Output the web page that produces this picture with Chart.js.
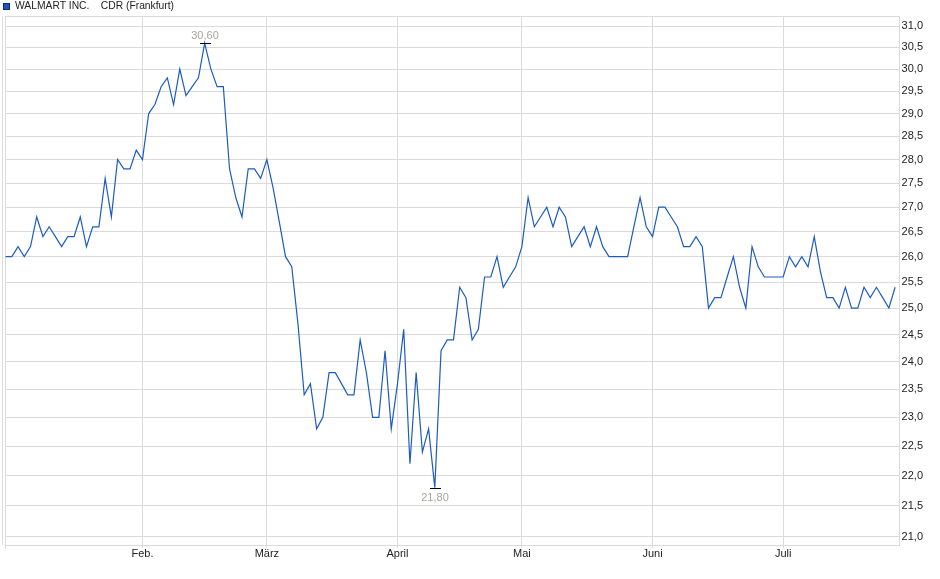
<!DOCTYPE html>
<html>
<head>
<meta charset="utf-8">
<title>WALMART INC. CDR (Frankfurt)</title>
<script src="https://cdn.jsdelivr.net/npm/chart.js@4/dist/chart.umd.min.js"></script>
<style>
html, body { margin: 0; padding: 0; background: #fff; }
#wrap { width: 940px; height: 579px; }
</style>
</head>
<body>
<div id="wrap"><canvas id="kursChart" width="940" height="579"></canvas></div>
<script>
const seriesName = 'WALMART INC.    CDR (Frankfurt)';

// Schlusskurse, ein Wert pro Handelstag (Jan. bis Ende Juli)
const prices = [
    26.0, 26.0, 26.2, 26.0, 26.2, 26.8, 26.4, 26.6, 26.4, 26.2,
    26.4, 26.4, 26.8, 26.2, 26.6, 26.6, 27.6, 26.8, 28.0, 27.8,
    27.8, 28.2, 28.0, 29.0, 29.2, 29.6, 29.8, 29.2, 30.0, 29.4,
    29.6, 29.8, 30.6, 30.0, 29.6, 29.6, 27.8, 27.2, 26.8, 27.8,
    27.8, 27.6, 28.0, 27.4, 26.7, 26.0, 25.8, 24.7, 23.4, 23.6,
    22.8, 23.0, 23.8, 23.8, 23.6, 23.4, 23.4, 24.4, 23.8, 23.0,
    23.0, 24.2, 22.8, 23.6, 24.6, 22.2, 23.8, 22.4, 22.8, 21.8,
    24.2, 24.4, 24.4, 25.4, 25.2, 24.4, 24.6, 25.6, 25.6, 26.0,
    25.4, 25.6, 25.8, 26.2, 27.2, 26.6, 26.8, 27.0, 26.6, 27.0,
    26.8, 26.2, 26.4, 26.6, 26.2, 26.6, 26.2, 26.0, 26.0, 26.0,
    26.0, 26.6, 27.2, 26.6, 26.4, 27.0, 27.0, 26.8, 26.6, 26.2,
    26.2, 26.4, 26.2, 25.0, 25.2, 25.2, 25.6, 26.0, 25.4, 25.0,
    26.2, 25.8, 25.6, 25.6, 25.6, 25.6, 26.0, 25.8, 26.0, 25.8,
    26.4, 25.7, 25.2, 25.2, 25.0, 25.4, 25.0, 25.0, 25.4, 25.2,
    25.4, 25.2, 25.0, 25.4
];

const monthNames = ['Feb.', 'März', 'April', 'Mai', 'Juni', 'Juli'];
const monthStarts = [22, 42, 63, 83, 104, 125];

const yTicks = [21.0, 21.5, 22.0, 22.5, 23.0, 23.5, 24.0, 24.5, 25.0, 25.5,
                26.0, 26.5, 27.0, 27.5, 28.0, 28.5, 29.0, 29.5, 30.0, 30.5, 31.0];

const lineColor = '#1c5bc4';
const gridColor = '#dadada';
const textColor = '#222222';
const markColor = '#a9a39c';
const fontName = '"Liberation Sans", Arial, sans-serif';

function komma(v, d) {
    return v.toFixed(d).replace('.', ',');
}

// Rahmen, Legende und Markierung von Hoch/Tief
const rahmen = {
    id: 'rahmen',
    beforeDatasetsDraw(chart) {
        const ctx = chart.ctx;
        const a = chart.chartArea;
        ctx.save();
        ctx.strokeStyle = gridColor;
        ctx.lineWidth = 1;
        const l = Math.round(a.left) + 0.5, r = Math.round(a.right) + 0.5;
        const t = Math.round(a.top) + 0.5, b = Math.round(a.bottom) + 0.5;
        ctx.strokeRect(l, t, r - l, b - t);
        ctx.beginPath();
        ctx.moveTo(l - 3, t);
        ctx.lineTo(l - 3, b);
        ctx.moveTo(l, b);
        ctx.lineTo(l, b + 3);
        ctx.stroke();
        ctx.restore();
    },
    afterDatasetsDraw(chart) {
        const ctx = chart.ctx;
        const xs = chart.scales.x, ys = chart.scales.y;
        const hi = prices.indexOf(Math.max(...prices));
        const lo = prices.indexOf(Math.min(...prices));
        ctx.save();
        ctx.font = '11px ' + fontName;
        ctx.textAlign = 'center';
        ctx.textBaseline = 'middle';
        [[hi, -8], [lo, 9]].forEach(function(m) {
            const x = Math.round(xs.getPixelForValue(m[0]));
            const y = Math.round(ys.getPixelForValue(prices[m[0]])) + 0.5;
            ctx.strokeStyle = '#000';
            ctx.lineWidth = 1;
            ctx.beginPath();
            ctx.moveTo(x - 5, y);
            ctx.lineTo(x + 6, y);
            ctx.stroke();
            ctx.fillStyle = markColor;
            ctx.fillText(komma(prices[m[0]], 2), x, y + m[1]);
        });

        // Legende oben links
        ctx.fillStyle = '#1b55be';
        ctx.fillRect(3, 3, 7, 7);
        ctx.strokeStyle = '#0d2f70';
        ctx.strokeRect(3.5, 3.5, 6, 6);
        ctx.fillStyle = textColor;
        ctx.textAlign = 'left';
        ctx.font = '10.3px ' + fontName;
        ctx.fillText(seriesName, 15, 6.5);
        ctx.restore();
    }
};

const ctx = document.getElementById('kursChart').getContext('2d');
new Chart(ctx, {
    type: 'line',
    data: {
        datasets: [{
            label: seriesName,
            data: prices.map((p, i) => ({ x: i, y: p })),
            borderColor: lineColor,
            backgroundColor: lineColor,
            borderWidth: 1.2,
            pointRadius: 0,
            tension: 0
        }]
    },
    options: {
        responsive: false,
        animation: false,
        layout: {
            padding: { left: 5, right: 14, top: 16, bottom: 18 }
        },
        scales: {
            x: {
                type: 'linear',
                min: -0.1,
                max: 143.56,
                afterBuildTicks: function(scale) {
                    scale.ticks = monthStarts.map(v => ({ value: v }));
                },
                ticks: {
                    autoSkip: false,
                    maxRotation: 0,
                    padding: 0,
                    color: textColor,
                    font: { family: fontName, size: 11 },
                    callback: function(v) {
                        return monthNames[monthStarts.indexOf(v)];
                    }
                },
                grid: {
                    color: gridColor,
                    tickLength: 3
                },
                border: { display: false }
            },
            y: {
                type: 'logarithmic',
                position: 'right',
                min: 20.87,
                max: 31.24,
                afterBuildTicks: function(scale) {
                    scale.ticks = yTicks.map(v => ({ value: v }));
                },
                ticks: {
                    padding: 3,
                    color: textColor,
                    font: { family: fontName, size: 11 },
                    callback: function(v) {
                        return komma(v, 1);
                    }
                },
                grid: {
                    color: gridColor,
                    drawTicks: false
                },
                border: { display: false }
            }
        },
        plugins: {
            legend: { display: false },
            tooltip: { enabled: false }
        }
    },
    plugins: [rahmen]
});
</script>
</body>
</html>
